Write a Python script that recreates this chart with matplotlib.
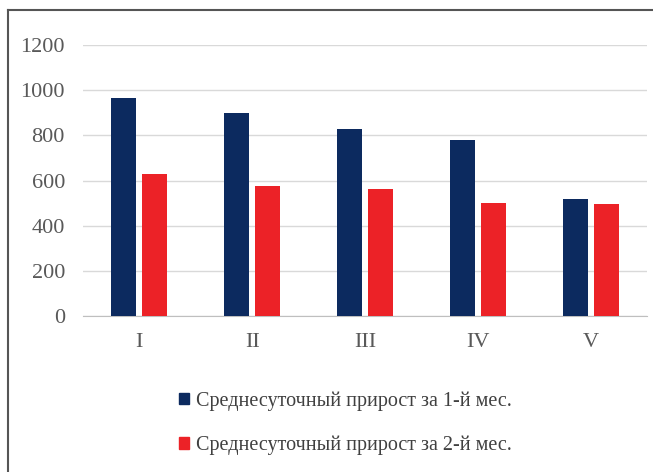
import matplotlib.pyplot as plt
import numpy as np
from matplotlib.patches import Patch
from matplotlib.lines import Line2D

groups = ['I', 'II', 'III', 'IV', 'V']
month1 = [965, 900, 828, 780, 518]
month2 = [629, 576, 562, 502, 496]
labels = ['Среднесуточный прирост за 1-й мес.', 'Среднесуточный прирост за 2-й мес.']
yticks = [0, 200, 400, 600, 800, 1000, 1200]

blue = '#0c2a5f'
red = '#ec2227'
txt = '#595959'

plt.rcParams['font.family'] = ['Liberation Serif', 'DejaVu Serif']

fig = plt.figure(figsize=(6.53, 4.72), dpi=100)
ax = fig.add_axes([0.127, 0.330, 0.864, 0.575])

x = np.arange(len(groups))
w = 0.22
ax.bar(x - 0.137, month1, w, color=blue, zorder=3)
ax.bar(x + 0.137, month2, w, color=red, zorder=3)

ax.set_xlim(-0.5, len(groups) - 0.5)
ax.set_ylim(0, 1200)
ax.set_yticks(yticks)
ax.set_xticks(x)
ax.set_xticklabels(groups)
ax.grid(axis='y', color='#d9d9d9', linewidth=1, zorder=0)
for s in ['top', 'right', 'left']:
    ax.spines[s].set_visible(False)
ax.spines['bottom'].set_color('#bfbfbf')
ax.tick_params(axis='both', length=0, labelsize=16, colors=txt)
ax.tick_params(axis='y', pad=13)
ax.tick_params(axis='x', pad=12)

handles = [Patch(color=blue), Patch(color=red)]
fig.legend(handles, labels, loc='upper left', bbox_to_anchor=(0.246, 0.21),
           frameon=False, fontsize=14.5, handlelength=0.5, handleheight=0.5,
           handletextpad=0.35, labelspacing=1.25, labelcolor='#404040')

# outer frame
fig.add_artist(Line2D([0.012, 0.012], [0, 0.979], color='#555555', lw=1.5))
fig.add_artist(Line2D([0.012, 1], [0.979, 0.979], color='#555555', lw=1.5))

plt.savefig('out.png', dpi=100)
